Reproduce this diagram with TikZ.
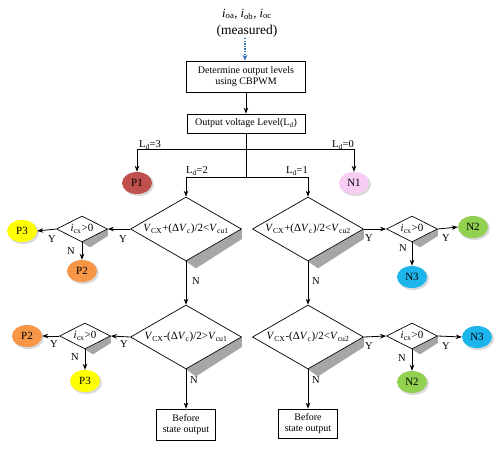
\documentclass[tikz,border=0pt]{standalone}
\usepackage{fontspec}
\setmainfont{Liberation Serif}
\usetikzlibrary{arrows.meta,shapes.geometric,calc,backgrounds}
\definecolor{cP1}{HTML}{C0504D}
\definecolor{cN1}{HTML}{F7CDF3}
\definecolor{cP3}{HTML}{FFFF00}
\definecolor{cP2}{HTML}{F79646}
\definecolor{cN2}{HTML}{92D050}
\definecolor{cN3}{HTML}{1CB5EC}
\definecolor{blu}{HTML}{2E75B6}
\definecolor{shd}{HTML}{A6A6A6}
\newcommand\sbs[1]{\textsubscript{#1}}
\tikzset{
  arr/.style={-{Stealth[length=6pt,width=4.5pt]}, line width=0.8pt},
  ln/.style={line width=0.8pt},
  box/.style={draw, line width=0.8pt, fill=white, font=\fontsize{10}{11.5}\selectfont, align=center, inner sep=0},
  dia/.style={draw, diamond, line width=0.7pt, fill=white, inner sep=0},
  bigdia/.style={dia, minimum width=111pt, minimum height=64pt},
  smalldia/.style={dia, minimum width=51pt, minimum height=26pt},
  ell/.style={ellipse, minimum width=30pt, minimum height=22pt, inner sep=0, font=\fontsize{11}{12}\selectfont},
  lab/.style={font=\fontsize{10.5}{11}\selectfont, inner sep=0},
  dtxt/.style={font=\fontsize{11}{12}\selectfont, inner sep=0},
  stxt/.style={font=\fontsize{11}{12}\selectfont, inner sep=0},
}
\newcommand\bshadow[1]{\fill[shd] (#1.east) -- (#1.south) -- ++(10,7) -- ($(#1.east)+(0,10)$) -- cycle;}
\newcommand\sshadow[1]{\fill[shd] (#1.east) -- (#1.south) -- ++(8,5) -- ($(#1.east)+(0,7)$) -- cycle;}
\newcommand\eshadow[1]{\fill[gray, opacity=0.3] ($(#1)+(1.5,1.5)$) ellipse (15.5pt and 11.5pt);}
\begin{document}
\begin{tikzpicture}[x=1pt,y=-1pt]
\useasboundingbox (0,0) rectangle (499,451);
% top text
\node[font=\fontsize{12.5}{13}\selectfont, inner sep=0] (t1) at (247,14) {\textit{i}\sbs{oa}, \textit{i}\sbs{ob}, \textit{i}\sbs{oc}};
\node[font=\fontsize{13.5}{14}\selectfont, inner sep=0] (t2) at (247,31) {(measured)};
\node[box, minimum width=119pt, minimum height=31pt] (b1) at (246,76.5) {Determine output levels\\using CBPWM};
\node[box, minimum width=118pt, minimum height=19pt] (b2) at (246,123.5) {Output voltage Level(L\sbs{d})};
\draw[blu, line width=1.2pt, dash pattern=on 1.4pt off 1.2pt, -{Stealth[length=6pt,width=5pt]}] (245,38) -- (b1.north -| 245,0);
\draw[arr] (b1) -- (b2);
\coordinate (j1) at (246,149);
\coordinate (j2) at (246,177);
\draw[ln] (b2.south) -- (j2);
% ellipses
\node[ell, fill=cP1] (P1) at (137,183) {P1};
\node[ell, fill=cN1] (N1) at (354,183) {N1};
\node[ell, fill=cP3] (P3a) at (22,231) {P3};
\node[ell, fill=cP2] (P2a) at (82,271) {P2};
\node[ell, fill=cN2] (N2a) at (473,227) {N2};
\node[ell, fill=cN3] (N3a) at (412,277) {N3};
\node[ell, fill=cP2] (P2b) at (27,336) {P2};
\node[ell, fill=cP3] (P3b) at (85,381) {P3};
\node[ell, fill=cN3] (N3b) at (477,337) {N3};
\node[ell, fill=cN2] (N2b) at (412,382) {N2};
% diamonds
\node[bigdia] (d1) at (186,229) {};
\node[bigdia] (d2) at (308,229) {};
\node[bigdia] (d3) at (186,337) {};
\node[bigdia] (d4) at (308,337) {};
\node[dtxt] (d1t) at (d1) {\textit{V}\sbs{CX}+(Δ\textit{V}\sbs{c})/2<\textit{V}\sbs{cu1}};
\node[dtxt] (d2t) at (d2) {\textit{V}\sbs{CX}+(Δ\textit{V}\sbs{c})/2<\textit{V}\sbs{cu2}};
\node[dtxt] (d3t) at (d3) {\textit{V}\sbs{CX}-(Δ\textit{V}\sbs{c})/2>\textit{V}\sbs{cu1}};
\node[dtxt] (d4t) at (d4) {\textit{V}\sbs{CX}-(Δ\textit{V}\sbs{c})/2<\textit{V}\sbs{cu2}};
\node[smalldia] (s1) at (82,229) {};
\node[smalldia] (s2) at (412,229) {};
\node[smalldia] (s3) at (85,336) {};
\node[smalldia] (s4) at (412,336) {};
\node[stxt] (s1t) at (s1) {\textit{i}\sbs{cx}>0};
\node[stxt] (s2t) at (s2) {\textit{i}\sbs{cx}>0};
\node[stxt] (s3t) at (s3) {\textit{i}\sbs{cx}>0};
\node[stxt] (s4t) at (s4) {\textit{i}\sbs{cx}>0};
\node[box, minimum width=59pt, minimum height=31pt] (o1) at (186,424.5) {Before\\state output};
\node[box, minimum width=59pt, minimum height=29pt] (o2) at (308,423.5) {Before\\state output};
\begin{scope}[on background layer]
\bshadow{d1}\bshadow{d2}\bshadow{d3}\bshadow{d4}
\sshadow{s1}\sshadow{s2}\sshadow{s3}\sshadow{s4}
\foreach \e in {P1,N1,P3a,P2a,N2a,N3a,P2b,P3b,N3b,N2b}{\eshadow{\e}}
\end{scope}
% level branches
\draw[arr] (j1) -| (P1.north);
\draw[arr] (j1) -| (N1.north);
\draw[arr] (j2) -| (d1.north);
\draw[arr] (j2) -| (d2.north);
\node[lab] (l3) at (150,145) {L\sbs{d}=3};
\node[lab] (l0) at (343,145) {L\sbs{d}=0};
\node[lab] (l2) at (197,171) {L\sbs{d}=2};
\node[lab] (l1) at (297,171) {L\sbs{d}=1};
% left upper
\draw[arr] (d1.west) -- (s1.east);
\draw[arr] (s1.west) -- (P3a.east);
\draw[arr] (s1.south) -- (P2a.north);
\draw[arr] (d1.south) -- (d3.north);
\node[lab] (y1) at (123,239) {Y};
\node[lab] (y2) at (52,239) {Y};
\node[lab] (n1) at (71,251) {N};
\node[lab] (n2) at (196,281) {N};
% right upper
\draw[arr] (d2.east) -- (s2.west);
\draw[arr] (s2.east) -- (N2a.west);
\draw[arr] (s2.south) -- (N3a.north);
\draw[arr] (d2.south) -- (d4.north);
\node[lab] (y3) at (369,238) {Y};
\node[lab] (y4) at (446,238) {Y};
\node[lab] (n3) at (403,248) {N};
\node[lab] (n4) at (316,281) {N};
% left lower
\draw[arr] (d3.west) -- (s3.east);
\draw[arr] (s3.west) -- (P2b.east);
\draw[arr] (s3.south) -- (P3b.north);
\draw[arr] (d3.south) -- (o1.north);
\node[lab] (y5) at (124,344) {Y};
\node[lab] (y6) at (54,344) {Y};
\node[lab] (n5) at (75,357) {N};
\node[lab] (n6) at (194,380) {N};
% right lower
\draw[arr] (d4.east) -- (s4.west);
\draw[arr] (s4.east) -- (N3b.west);
\draw[arr] (s4.south) -- (N2b.north);
\draw[arr] (d4.south) -- (o2.north);
\node[lab] (y7) at (369,346) {Y};
\node[lab] (y8) at (446,346) {Y};
\node[lab] (n7) at (402,358) {N};
\node[lab] (n8) at (316,380) {N};
\end{tikzpicture}
\end{document}
